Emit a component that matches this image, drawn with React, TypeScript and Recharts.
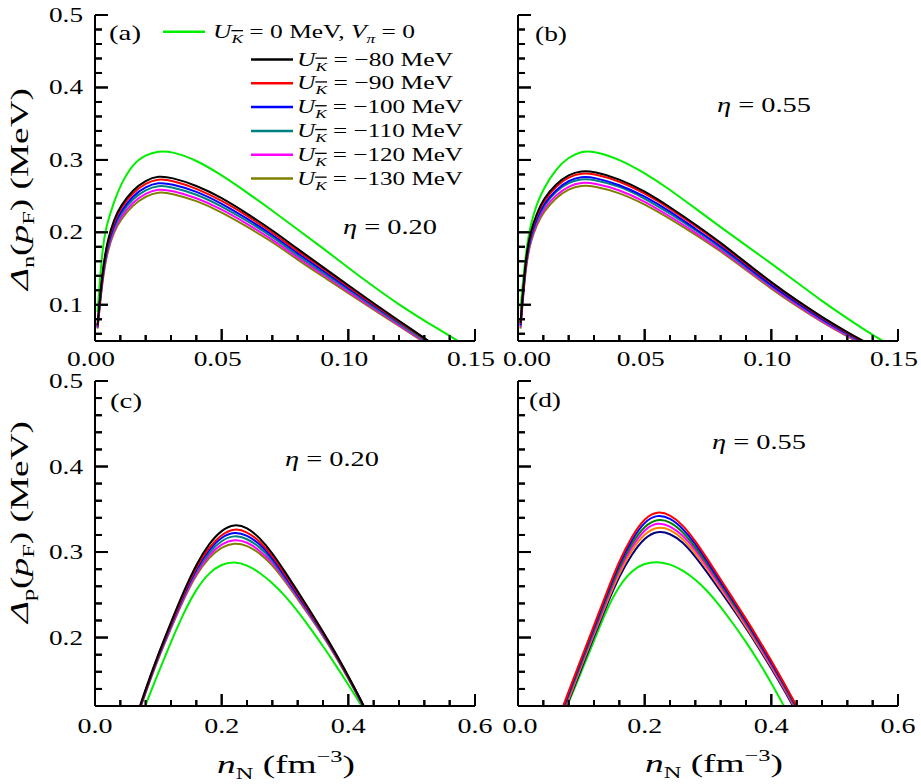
import React from 'react';
import { LineChart, Line, XAxis, YAxis, Customized } from 'recharts';

// x grids (nucleon density, fm^-3)
const nLow = [0.001, 0.003, 0.005, 0.0075, 0.01, 0.015, 0.02, 0.025, 0.03, 0.04, 0.05, 0.06, 0.07, 0.08, 0.09, 0.1, 0.11, 0.12, 0.13, 0.14, 0.15];
const nHigh = [0.06, 0.08, 0.1, 0.12, 0.14, 0.16, 0.18, 0.2, 0.22, 0.24, 0.26, 0.28, 0.3, 0.32, 0.34, 0.36, 0.38, 0.4, 0.42, 0.44, 0.46];

// (a) neutron gap, eta = 0.20
const aU0 = [0.09, 0.185, 0.215, 0.242, 0.265, 0.295, 0.307, 0.312, 0.312, 0.3, 0.279, 0.255, 0.23, 0.204, 0.178, 0.151, 0.125, 0.1, 0.078, 0.057, 0.036];
const aU80 = [0.072, 0.15, 0.19, 0.218, 0.236, 0.259, 0.272, 0.278, 0.276, 0.265, 0.248, 0.226, 0.203, 0.177, 0.152, 0.127, 0.102, 0.078, 0.054, 0.03, 0.006];
const aU90 = [0.071, 0.148, 0.187, 0.215, 0.233, 0.255, 0.268, 0.274, 0.272, 0.261, 0.244, 0.223, 0.2, 0.174, 0.15, 0.125, 0.1, 0.077, 0.053, 0.029, 0.005];
const aU100 = [0.07, 0.145, 0.184, 0.211, 0.228, 0.251, 0.263, 0.269, 0.267, 0.257, 0.24, 0.219, 0.197, 0.171, 0.147, 0.123, 0.099, 0.076, 0.054, 0.03, 0.006];
const aU110 = [0.069, 0.142, 0.181, 0.208, 0.225, 0.247, 0.259, 0.265, 0.263, 0.253, 0.236, 0.216, 0.194, 0.168, 0.144, 0.121, 0.097, 0.074, 0.051, 0.027, 0.004];
const aU120 = [0.068, 0.14, 0.178, 0.204, 0.221, 0.242, 0.254, 0.26, 0.258, 0.248, 0.232, 0.212, 0.19, 0.165, 0.142, 0.118, 0.095, 0.072, 0.049, 0.026, 0.003];
const aU130 = [0.067, 0.137, 0.175, 0.201, 0.217, 0.238, 0.25, 0.256, 0.254, 0.244, 0.228, 0.208, 0.187, 0.162, 0.139, 0.116, 0.093, 0.071, 0.048, 0.025, 0.002];

// (b) neutron gap, eta = 0.55
const bU0 = [0.095, 0.172, 0.212, 0.24, 0.26, 0.288, 0.304, 0.312, 0.312, 0.301, 0.282, 0.259, 0.233, 0.207, 0.182, 0.157, 0.131, 0.105, 0.081, 0.058, 0.038];
const bU80 = [0.075, 0.165, 0.202, 0.227, 0.246, 0.267, 0.28, 0.285, 0.284, 0.274, 0.257, 0.235, 0.211, 0.186, 0.158, 0.131, 0.106, 0.083, 0.062, 0.043, 0.025];
const bU90 = [0.074, 0.163, 0.2, 0.225, 0.243, 0.264, 0.277, 0.282, 0.281, 0.271, 0.254, 0.233, 0.209, 0.184, 0.156, 0.13, 0.105, 0.082, 0.061, 0.042, 0.024];
const bU100 = [0.072, 0.161, 0.196, 0.221, 0.239, 0.259, 0.272, 0.277, 0.276, 0.266, 0.25, 0.229, 0.205, 0.181, 0.154, 0.127, 0.103, 0.08, 0.06, 0.041, 0.023];
const bU110 = [0.071, 0.159, 0.194, 0.218, 0.236, 0.257, 0.269, 0.274, 0.273, 0.264, 0.247, 0.226, 0.203, 0.179, 0.152, 0.126, 0.102, 0.079, 0.059, 0.04, 0.023];
const bU120 = [0.069, 0.156, 0.191, 0.214, 0.232, 0.252, 0.264, 0.269, 0.268, 0.259, 0.243, 0.222, 0.2, 0.176, 0.15, 0.124, 0.1, 0.077, 0.057, 0.039, 0.022];
const bU130 = [0.067, 0.154, 0.188, 0.211, 0.228, 0.248, 0.26, 0.265, 0.264, 0.255, 0.239, 0.219, 0.197, 0.174, 0.148, 0.122, 0.098, 0.076, 0.056, 0.038, 0.021];

// (c) proton gap, eta = 0.20
const cU0 = [0.08, 0.122, 0.159, 0.195, 0.229, 0.257, 0.276, 0.286, 0.289, 0.285, 0.276, 0.264, 0.249, 0.231, 0.211, 0.19, 0.168, 0.145, 0.121, 0.098, 0.075];
const cU80 = [0.096, 0.14, 0.181, 0.218, 0.254, 0.286, 0.31, 0.326, 0.333, 0.329, 0.317, 0.299, 0.277, 0.254, 0.231, 0.207, 0.182, 0.155, 0.127, 0.096, 0.067];
const cU90 = [0.095, 0.139, 0.18, 0.216, 0.252, 0.283, 0.306, 0.321, 0.328, 0.324, 0.313, 0.296, 0.274, 0.252, 0.229, 0.206, 0.181, 0.154, 0.127, 0.096, 0.067];
const cU100 = [0.095, 0.138, 0.179, 0.215, 0.25, 0.281, 0.303, 0.318, 0.324, 0.32, 0.31, 0.293, 0.272, 0.25, 0.228, 0.205, 0.18, 0.154, 0.126, 0.095, 0.066];
const cU110 = [0.094, 0.138, 0.178, 0.214, 0.249, 0.279, 0.3, 0.314, 0.32, 0.316, 0.306, 0.291, 0.27, 0.249, 0.227, 0.204, 0.18, 0.153, 0.126, 0.095, 0.066];
const cU120 = [0.094, 0.137, 0.177, 0.212, 0.247, 0.276, 0.297, 0.31, 0.315, 0.312, 0.302, 0.288, 0.268, 0.247, 0.225, 0.203, 0.179, 0.153, 0.125, 0.094, 0.065];
const cU130 = [0.093, 0.136, 0.176, 0.211, 0.245, 0.274, 0.294, 0.306, 0.311, 0.308, 0.299, 0.285, 0.266, 0.245, 0.224, 0.202, 0.178, 0.152, 0.125, 0.094, 0.065];

// (d) proton gap, eta = 0.55
const dU0 = [0.089, 0.124, 0.16, 0.196, 0.233, 0.261, 0.279, 0.287, 0.289, 0.286, 0.279, 0.268, 0.254, 0.236, 0.216, 0.195, 0.172, 0.147, 0.12, 0.092, 0.064];
const dRed = [0.098, 0.137, 0.176, 0.214, 0.253, 0.29, 0.319, 0.34, 0.348, 0.344, 0.332, 0.313, 0.291, 0.268, 0.245, 0.222, 0.198, 0.173, 0.147, 0.12, 0.092];
const dBlue = [0.096, 0.135, 0.174, 0.212, 0.25, 0.287, 0.315, 0.336, 0.344, 0.34, 0.328, 0.31, 0.288, 0.265, 0.243, 0.22, 0.196, 0.171, 0.146, 0.119, 0.091];
const dGreen = [0.094, 0.133, 0.171, 0.209, 0.247, 0.283, 0.311, 0.331, 0.339, 0.336, 0.324, 0.306, 0.285, 0.263, 0.24, 0.218, 0.194, 0.17, 0.144, 0.117, 0.089];
const dMagenta = [0.092, 0.131, 0.169, 0.206, 0.244, 0.28, 0.307, 0.327, 0.335, 0.331, 0.32, 0.303, 0.282, 0.26, 0.238, 0.216, 0.192, 0.168, 0.142, 0.115, 0.087];
const dOrange = [0.09, 0.128, 0.167, 0.204, 0.241, 0.276, 0.303, 0.322, 0.33, 0.327, 0.316, 0.299, 0.279, 0.257, 0.236, 0.213, 0.19, 0.166, 0.141, 0.114, 0.086];
const dNavy = [0.088, 0.126, 0.164, 0.201, 0.238, 0.272, 0.298, 0.317, 0.325, 0.322, 0.312, 0.295, 0.275, 0.254, 0.233, 0.211, 0.188, 0.164, 0.139, 0.112, 0.084];

// ticks
const lowXTicks = [0, 0.01, 0.02, 0.03, 0.04, 0.05, 0.06, 0.07, 0.08, 0.09, 0.1, 0.11, 0.12, 0.13, 0.14, 0.15];
const lowXMajor = [0, 0.05, 0.1, 0.15];
const lowYTicks = [0.06, 0.08, 0.1, 0.12, 0.14, 0.16, 0.18, 0.2, 0.22, 0.24, 0.26, 0.28, 0.3, 0.32, 0.34, 0.36, 0.38, 0.4, 0.42, 0.44, 0.46, 0.48, 0.5];
const highXTicks = [0, 0.04, 0.08, 0.12, 0.16, 0.2, 0.24, 0.28, 0.32, 0.36, 0.4, 0.44, 0.48, 0.52, 0.56, 0.6];
const highXMajor = [0, 0.2, 0.4, 0.6];
const highYTicks = [0.14, 0.16, 0.18, 0.2, 0.22, 0.24, 0.26, 0.28, 0.3, 0.32, 0.34, 0.36, 0.38, 0.4, 0.42, 0.44, 0.46, 0.48, 0.5];
const yMajor = [0.1, 0.2, 0.3, 0.4, 0.5];

// legend
const potentials = ['0', '−80', '−90', '−100', '−110', '−120', '−130'];
const keys = ['u0', 'u80', 'u90', 'u100', 'u110', 'u120', 'u130'];
const colors = ['#00ee00', '#000000', '#ff0000', '#0000ff', '#008080', '#ff00ff', '#808000'];
const dColors = ['#00ee00', '#ff0000', '#0000ff', '#008000', '#ff00ff', '#ff8000', '#000080'];

const font = '"Liberation Serif", "DejaVu Serif", serif';

const makeRows = (xs: number[], cols: number[][]) =>
  xs.map((x, i) => {
    const r: any = { x };
    cols.forEach((c, j) => (r[keys[j]] = c[i]));
    return r;
  });

const aRows = makeRows(nLow, [aU0, aU80, aU90, aU100, aU110, aU120, aU130]);
const bRows = makeRows(nLow, [bU0, bU80, bU90, bU100, bU110, bU120, bU130]);
const cRows = makeRows(nHigh, [cU0, cU80, cU90, cU100, cU110, cU120, cU130]);
const dRows = makeRows(nHigh, [dU0, dRed, dBlue, dGreen, dMagenta, dOrange, dNavy]);

const isIn = (list: number[], v: number) => list.some((m) => Math.abs(m - v) < 1e-9);

function Panel(p: any) {
  const [x0, x1] = p.xDomain;
  const [y0, y1] = p.yDomain;
  // plot box, used for the inward tick marks
  const pl = p.yWidth;
  const pt = p.margin.top;
  const pw = p.width - p.margin.right - p.yWidth;
  const ph = p.height - p.margin.top - p.xHeight;
  const sx = (v: number) => pl + ((v - x0) / (x1 - x0)) * pw;
  const sy = (v: number) => pt + ((y1 - v) / (y1 - y0)) * ph;
  const tickPath =
    p.xTicks.map((v: number) => `M${sx(v).toFixed(1)} ${pt + ph}v${isIn(p.xMajor, v) ? -12 : -6}`).join('') +
    p.yTicks.map((v: number) => `M${pl} ${sy(v).toFixed(1)}h${isIn(yMajor, v) ? 13 : 7}`).join('');

  const xTick = (t: any) => {
    const v = t.payload.value;
    const major = isIn(p.xMajor, v);
    const shift = Math.abs(v - x0) < 1e-9 ? p.firstShift : p.xShift;
    return (
      <g>
        <path d={`M${t.x} ${t.y}v${major ? -12 : -6}`} stroke="#000" strokeWidth={2} fill="none" />
        {major && (
          <text x={t.x + shift} y={t.y + p.xLabelDy} textAnchor="middle" fontSize={21} fontFamily={font}
            textLength={p.xDigits === 2 ? 48 : 35} lengthAdjust="spacingAndGlyphs" fill="#000" stroke="none">
            {v.toFixed(p.xDigits)}
          </text>
        )}
      </g>
    );
  };
  const yTick = (t: any) => {
    const v = t.payload.value;
    const major = isIn(yMajor, v);
    return (
      <g>
        <path d={`M${t.x} ${t.y}h${major ? 13 : 7}`} stroke="#000" strokeWidth={2} fill="none" />
        {major && p.yLabels && (
          <text x={t.x - 12} y={t.y + 7} textAnchor="end" fontSize={21} fontFamily={font}
            textLength={34} lengthAdjust="spacingAndGlyphs" fill="#000" stroke="none">
            {v.toFixed(1)}
          </text>
        )}
      </g>
    );
  };
  const frame = { stroke: '#000', strokeWidth: 2 };
  return (
    <div style={{ position: 'absolute', left: p.left, top: p.top }}>
      <LineChart width={p.width} height={p.height} data={p.rows} margin={p.margin}>
        <XAxis type="number" dataKey="x" domain={p.xDomain} ticks={p.xTicks} interval={0} allowDataOverflow
          height={p.xHeight} tickSize={0} tickMargin={0} tickLine={false} tick={xTick} axisLine={frame} />
        <XAxis xAxisId="top" orientation="top" type="number" dataKey="x" domain={p.xDomain} allowDataOverflow
          height={0} tick={false} tickLine={false} axisLine={frame} />
        <YAxis type="number" domain={p.yDomain} ticks={p.yTicks} interval={0} allowDataOverflow
          width={p.yWidth} tickSize={0} tickMargin={0} tickLine={false} tick={yTick} axisLine={frame} />
        <YAxis yAxisId="right" orientation="right" type="number" domain={p.yDomain} allowDataOverflow
          width={0} tick={false} tickLine={false} axisLine={frame} />
        {p.order.map((j: number) => (
          <Line key={keys[j]} dataKey={keys[j]} type="basis" stroke={p.colors[j]} strokeWidth={2}
            dot={false} activeDot={false} isAnimationActive={false} />
        ))}
        <Customized component={() => (
          <g fontFamily={font} fill="#000">
            <path d={tickPath} stroke="#000" strokeWidth={2} fill="none" />
            {p.overlay}
          </g>
        )} />
      </LineChart>
    </div>
  );
}

// U with subscript K-bar
function UK({ value }: { value: string }) {
  return (
    <>
      <tspan fontStyle="italic">U</tspan>
      <tspan fontStyle="italic" fontSize={13} dy={5} style={{ textDecoration: 'overline' }}>K</tspan>
      <tspan dy={-5}>{` = ${value} MeV`}</tspan>
    </>
  );
}

const legendA = (
  <g>
    <line x1={163} x2={205} y1={31.7} y2={31.7} stroke={colors[0]} strokeWidth={2.5} />
    <text x={213} y={38} fontSize={19} textLength={202} lengthAdjust="spacingAndGlyphs">
      <UK value={potentials[0]} />
      <tspan>{', '}</tspan>
      <tspan fontStyle="italic">V</tspan>
      <tspan fontStyle="italic" fontSize={13} dy={5}>π</tspan>
      <tspan dy={-5}>{' = 0'}</tspan>
    </text>
    {[1, 2, 3, 4, 5, 6].map((j, i) => (
      <g key={j}>
        <line x1={251} x2={293} y1={59.5 + i * 23.8} y2={59.5 + i * 23.8} stroke={colors[j]} strokeWidth={2.5} />
        <text x={297} y={65.5 + i * 23.8} fontSize={19} textLength={potentials[j].length > 3 ? 166 : 156}
          lengthAdjust="spacingAndGlyphs">
          <UK value={potentials[j]} />
        </text>
      </g>
    ))}
  </g>
);

const eta = (x: number, y: number, v: string) => (
  <text x={x} y={y} fontSize={22} textLength={94} lengthAdjust="spacingAndGlyphs">
    <tspan fontStyle="italic">η</tspan>
    <tspan>{` = ${v}`}</tspan>
  </text>
);

const tag = (x: number, y: number, s: string) => (
  <text x={x} y={y} fontSize={21} textLength={32} lengthAdjust="spacingAndGlyphs">{s}</text>
);

const yTitle = (cx: number, cy: number, q: string) => (
  <text transform={`translate(${cx},${cy}) rotate(-90)`} textAnchor="middle" fontSize={26}
    textLength={202} lengthAdjust="spacingAndGlyphs">
    <tspan fontStyle="italic">Δ</tspan>
    <tspan fontSize={17} dy={6}>{q}</tspan>
    <tspan dy={-6}>(</tspan>
    <tspan fontStyle="italic">p</tspan>
    <tspan fontSize={17} dy={6}>F</tspan>
    <tspan dy={-6}>{')  (MeV)'}</tspan>
  </text>
);

const xTitle = (cx: number, y: number) => (
  <text x={cx} y={y} textAnchor="middle" fontSize={26} textLength={138} lengthAdjust="spacingAndGlyphs">
    <tspan fontStyle="italic">n</tspan>
    <tspan fontSize={17} dy={6}>N</tspan>
    <tspan dy={-6}>{' (fm'}</tspan>
    <tspan fontSize={17} dy={-11}>−3</tspan>
    <tspan dy={11}>)</tspan>
  </text>
);

const order = [0, 6, 5, 4, 3, 2, 1];

export default function App() {
  return (
    <div style={{ position: 'absolute', left: 0, top: 0, width: 921, height: 784, background: '#fff' }}>
      <Panel left={0} top={0} width={500} height={380} margin={{ top: 15, right: 25, left: 0, bottom: 0 }}
        yWidth={95} xHeight={39} rows={aRows} colors={colors} order={order}
        xDomain={[0, 0.15]} yDomain={[0.05, 0.5]} xTicks={lowXTicks} xMajor={lowXMajor} yTicks={lowYTicks}
        xDigits={2} xShift={-4} firstShift={-4} xLabelDy={25} yLabels
        overlay={<>{legendA}{tag(109, 40, '(a)')}{eta(343, 234, '0.20')}{yTitle(28, 189, 'n')}</>} />
      <Panel left={460} top={0} width={461} height={380} margin={{ top: 15, right: 23, left: 0, bottom: 0 }}
        yWidth={58} xHeight={39} rows={bRows} colors={colors} order={order}
        xDomain={[0, 0.15]} yDomain={[0.05, 0.5]} xTicks={lowXTicks} xMajor={lowXMajor} yTicks={lowYTicks}
        xDigits={2} xShift={-4} firstShift={9} xLabelDy={25} yLabels={false}
        overlay={<>{tag(75, 41, '(b)')}{eta(257, 112, '0.55')}</>} />
      <Panel left={0} top={370} width={500} height={414} margin={{ top: 11, right: 25, left: 0, bottom: 0 }}
        yWidth={95} xHeight={78} rows={cRows} colors={colors} order={order}
        xDomain={[0, 0.6]} yDomain={[0.12, 0.5]} xTicks={highXTicks} xMajor={highXMajor} yTicks={highYTicks}
        xDigits={1} xShift={0} firstShift={0} xLabelDy={27} yLabels
        overlay={<>{tag(110, 38, '(c)')}{eta(285, 96, '0.20')}{yTitle(28, 152, 'p')}{xTitle(286, 403)}</>} />
      <Panel left={460} top={370} width={461} height={414} margin={{ top: 11, right: 23, left: 0, bottom: 0 }}
        yWidth={58} xHeight={78} rows={dRows} colors={dColors} order={order}
        xDomain={[0, 0.6]} yDomain={[0.12, 0.5]} xTicks={highXTicks} xMajor={highXMajor} yTicks={highYTicks}
        xDigits={1} xShift={0} firstShift={2} xLabelDy={27} yLabels={false}
        overlay={<>{tag(69, 37, '(d)')}{eta(252, 79, '0.55')}{xTitle(254, 402)}</>} />
    </div>
  );
}
